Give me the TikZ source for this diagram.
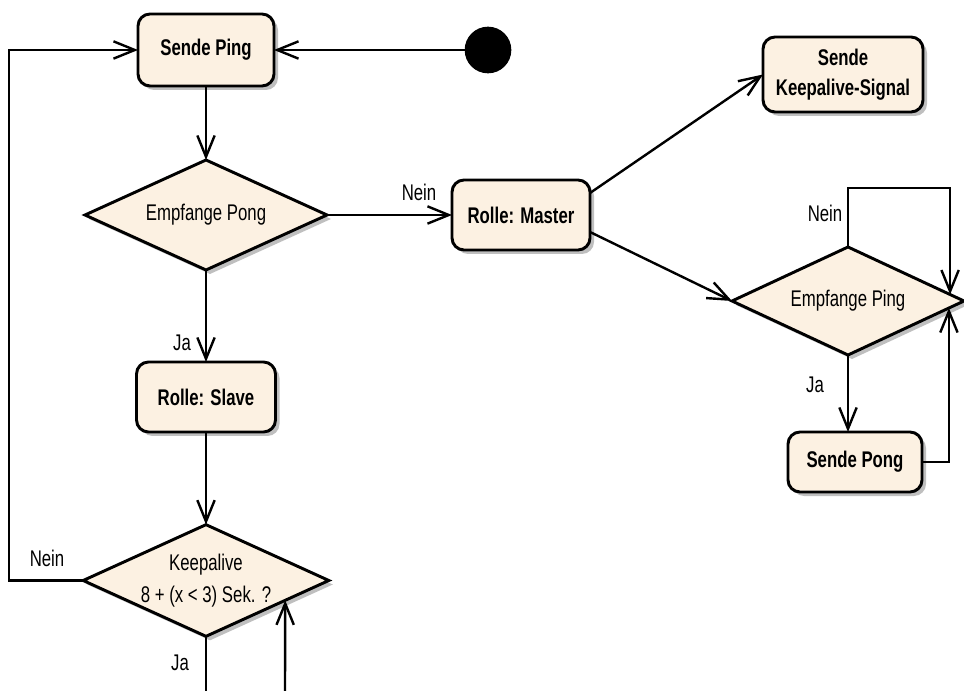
\documentclass[tikz,border=0pt]{standalone}
\usepackage{fontspec}
\setmainfont{Liberation Sans}[FakeStretch=0.74]
\usetikzlibrary{arrows.meta,shapes.geometric,shadows,calc}
\definecolor{actfill}{RGB}{252,241,226}
\begin{document}
\begin{tikzpicture}[x=0.75pt,y=-0.75pt,
  font=\fontsize{17}{23.5}\selectfont,
  softshadow/.style={drop shadow={shadow xshift=3pt,shadow yshift=-3pt,fill=black!50,opacity=0.5}},
  action/.style={draw,line width=2.2pt,rounded corners=9pt,fill=actfill,softshadow,
    font=\fontsize{17}{22.5}\selectfont\bfseries,align=center,inner sep=0pt,outer sep=0pt},
  decision/.style={diamond,draw,line width=2.2pt,fill=actfill,softshadow,aspect=2.2,
    align=center,inner sep=0pt,outer sep=0pt},
  flow/.style={line width=1.8pt,-{Straight Barb[length=16pt 0 0,width=13pt 0 0]}},
  plain/.style={line width=1.8pt},
  guard/.style={inner sep=0pt}]
\useasboundingbox (0,0) rectangle (964,691);

% activities and decisions
\node[action,minimum width=102pt,minimum height=54pt] (ping) at (206,50) {Sende Ping};
\node[circle,fill=black,minimum size=35pt,inner sep=0pt,outer sep=0pt] (start) at (488,50) {};
\node[decision,minimum width=181.5pt,minimum height=82.5pt] (pong) at (206,215) {Empfange Pong};
\node[action,minimum width=103.5pt,minimum height=52.5pt] (master) at (521,215) {Rolle: Master};
\node[action,minimum width=120pt,minimum height=56.25pt] (ka) at (843,74.5) {Sende\\Keepalive-Signal};
\node[decision,minimum width=174pt,minimum height=81pt] (eping) at (848,301) {Empfange Ping};
\node[action,minimum width=100.5pt,minimum height=45pt] (spong) at (855,462) {Sende Pong};
\node[action,minimum width=104.25pt,minimum height=52.5pt] (slave) at (206,397) {Rolle: Slave};
\node[decision,minimum width=181.5pt,minimum height=81.75pt] (kadec) at (206,580.5) {Keepalive\\8 + (x < 3) Sek. ?\vphantom{p}};

% guard labels
\node[guard] (g1) at (419,192) {Nein};
\node[guard] (g2) at (182,343) {Ja};
\node[guard] (g3) at (47,558) {Nein};
\node[guard] (g4) at (180,663) {Ja};
\node[guard] (g5) at (825,213) {Nein};
\node[guard] (g6) at (815,385) {Ja};

% loose ends at the lower border
\coordinate (exitja) at (206,691);
\coordinate (reentry) at (285,691);

% connectors
\draw[flow] (start.west) -- (ping.east);
\draw[flow] (ping.south) -- (pong.north);
\draw[flow] (pong.east) -- (master.west);
\draw[flow] (pong.south) -- (slave.north);
\draw[flow] (slave.south) -- (kadec.north);
\draw[flow] (kadec.west) -- ++(-74,0) |- (ping.west);
\draw[plain] (kadec.south) -- (exitja);
\draw[flow] (reentry) -- ($(kadec.east)!0.355!(kadec.south)$);
\draw[flow] ([yshift=16.5pt]master.east) -- (ka.west);
\draw[flow] ([yshift=-12.75pt]master.east) -- (eping.west);
\draw[flow] (eping.north) -- ++(0,-59) -| ($(eping.north)!0.88!(eping.east)$);
\draw[flow] (eping.south) -- (eping.south |- spong.north);
\draw[flow] (spong.east) -| ($(eping.east)!0.13!(eping.south)$);
\end{tikzpicture}
\end{document}
